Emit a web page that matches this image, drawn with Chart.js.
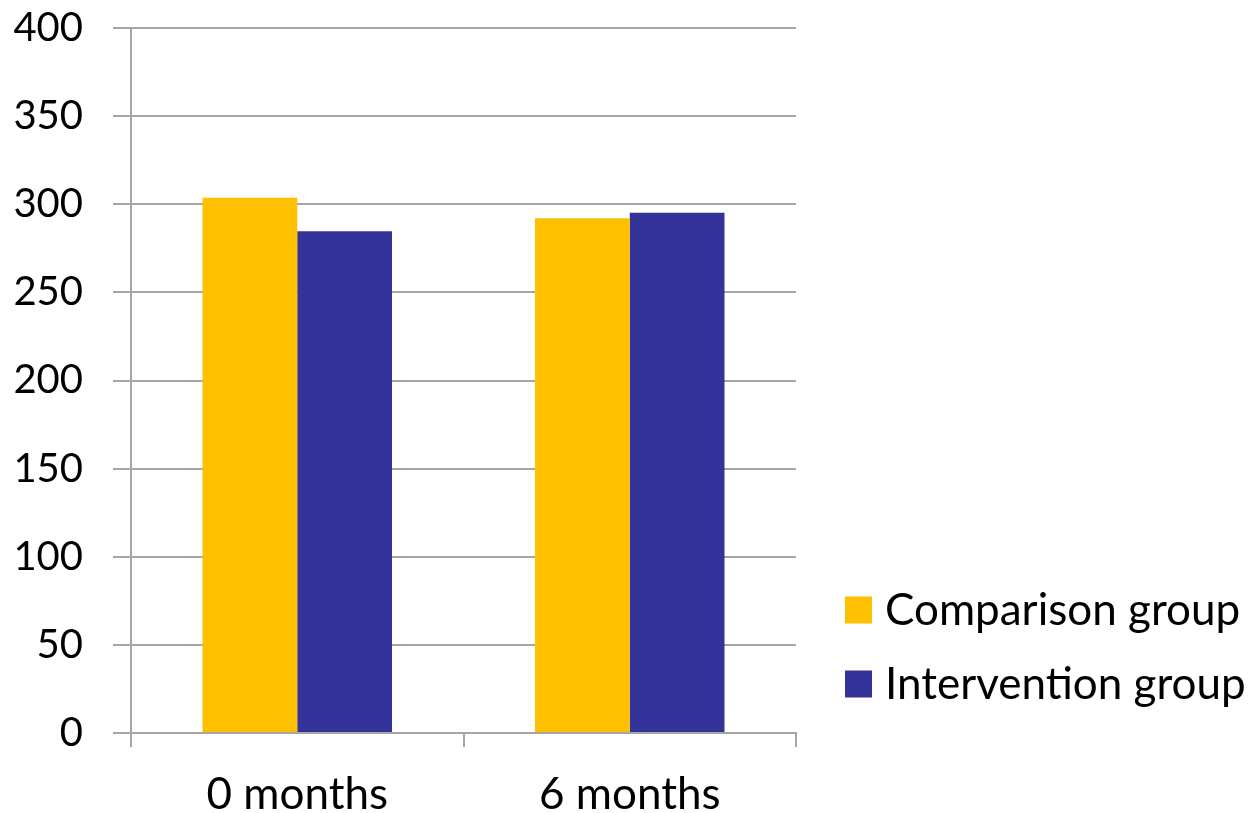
<!DOCTYPE html>
<html>
<head>
<meta charset="utf-8">
<script src="https://cdn.jsdelivr.net/npm/chart.js@4"></script>
<style>
  html, body { margin: 0; padding: 0; background: #fff; }
  #wrap { width: 1254px; height: 813px; }
</style>
</head>
<body>
<div id="wrap"><canvas id="myBarChart"></canvas></div>
<script>
const categories = ['0 months', '6 months'];
const comparisonValues = [303.7, 292];
const interventionValues = [284.7, 295.2];
const yTicks = [0, 50, 100, 150, 200, 250, 300, 350, 400];

const gridGray = '#a6a6a6';
const fontFamily = 'Lato, "Liberation Sans", sans-serif';

// the built-in legend gets squeezed to a quarter of the width, so draw it here
const sideLegend = {
    id: 'sideLegend',
    afterDraw(chart) {
        const c = chart.ctx;
        const area = chart.chartArea;
        const x = area.right + 49;
        const rowY = [area.bottom - 123, area.bottom - 49];
        c.save();
        c.font = '44px ' + fontFamily;
        c.textBaseline = 'middle';
        c.textAlign = 'left';
        chart.data.datasets.forEach((ds, i) => {
            c.fillStyle = ds.backgroundColor;
            c.fillRect(x, rowY[i] - 13.5, 27, 27);
            c.fillStyle = '#000';
            c.fillText(ds.label, x + 40, rowY[i] + 1);
        });
        c.restore();
    }
};

window.onload = function() {
    const ctx = document.getElementById('myBarChart').getContext('2d');
    new Chart(ctx, {
        type: 'bar',
        data: {
            labels: categories,
            datasets: [{
                label: 'Comparison group',
                data: comparisonValues,
                backgroundColor: '#ffc000'
            }, {
                label: 'Intervention group',
                data: interventionValues,
                backgroundColor: '#333399'
            }]
        },
        options: {
            responsive: true,
            maintainAspectRatio: false,
            animation: false,
            datasets: {
                bar: { categoryPercentage: 0.57, barPercentage: 1.0 }
            },
            layout: { padding: { top: 28, left: 0, right: 458, bottom: 0 } },
            plugins: {
                tooltip: { enabled: false },
                legend: { display: false }
            },
            scales: {
                x: {
                    afterFit: axis => { axis.height = 80; },
                    grid: {
                        drawOnChartArea: false,
                        drawTicks: true,
                        tickLength: 14,
                        color: gridGray,
                        lineWidth: 2
                    },
                    border: { color: gridGray, width: 2 },
                    ticks: {
                        color: '#000',
                        padding: 30,
                        font: { family: fontFamily, size: 44, lineHeight: '36px' }
                    }
                },
                y: {
                    min: 0,
                    max: 400,
                    afterBuildTicks: axis => { axis.ticks = yTicks.map(v => ({ value: v })); },
                    afterFit: axis => {
                        axis.width = 131;
                        axis.paddingTop = 0;
                        axis.paddingBottom = 0;
                    },
                    grid: {
                        color: gridGray,
                        lineWidth: 2,
                        tickLength: 18
                    },
                    border: { color: gridGray, width: 2 },
                    ticks: {
                        color: '#000',
                        padding: 30,
                        font: { family: fontFamily, size: 40 }
                    }
                }
            }
        },
        plugins: [sideLegend]
    });
};
</script>
</body>
</html>
